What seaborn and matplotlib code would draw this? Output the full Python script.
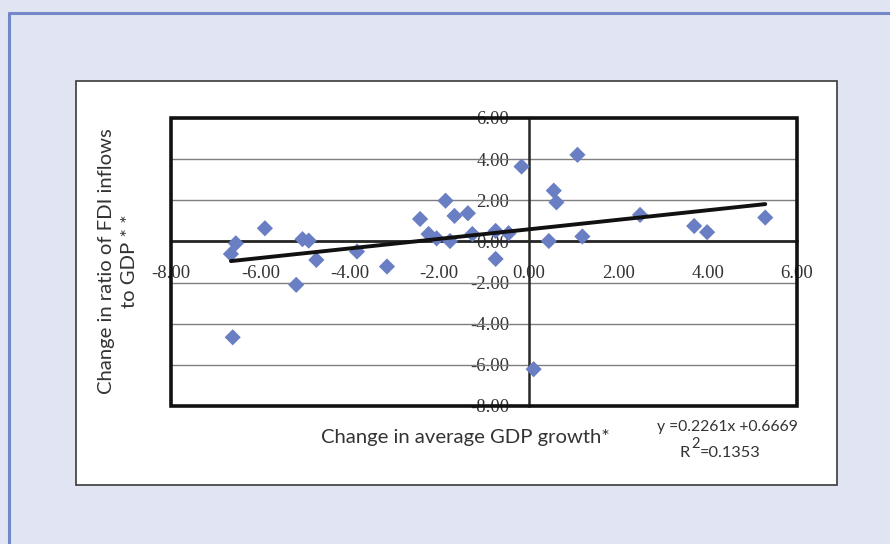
import numpy as np
import matplotlib
matplotlib.use("Agg")
import matplotlib.pyplot as plt
import matplotlib.patches as patches
from matplotlib.lines import Line2D
import seaborn as sns

# change in average GDP growth (x) vs change in FDI inflow ratio (y)
gdp_change = [-6.66, -6.55, -5.90, -5.06, -4.92, -4.75, -5.20, -6.62, -3.84, -3.17,
              -2.43, -2.24, -2.06, -1.86, -1.76, -1.66, -1.36, -1.26, -0.74, -0.74,
              -0.45, -0.16, 0.11, 0.45, 0.56, 0.62, 1.09, 1.20, 2.49, 3.70, 3.99, 5.29]
fdi_change = [-0.61, -0.09, 0.64, 0.11, 0.04, -0.90, -2.11, -4.66, -0.49, -1.22,
              1.09, 0.36, 0.15, 1.98, 0.02, 1.24, 1.37, 0.36, 0.51, -0.85,
              0.40, 3.64, -6.21, 0.02, 2.47, 1.90, 4.21, 0.24, 1.29, 0.75, 0.45, 1.16]
x_ticks = [-8, -6, -4, -2, 0, 2, 4, 6]
y_ticks = [-8, -6, -4, -2, 0, 2, 4, 6]

sns.set_style("white")
W, H = 890, 544
fig = plt.figure(figsize=(W / 100, H / 100), dpi=100)
fig.patch.set_facecolor("#e1e4f2")

# outer blue frame (left and top) and white chart box
fig.add_artist(Line2D([9 / W, 9 / W], [0, 1 - 13 / H], color="#7388c8", lw=2.2))
fig.add_artist(Line2D([9 / W, 1], [1 - 13 / H, 1 - 13 / H], color="#7388c8", lw=2.2))
fig.add_artist(patches.Rectangle((76 / W, 1 - 485 / H), (837 - 76) / W, (485 - 81) / H,
                                 transform=fig.transFigure, facecolor="white",
                                 edgecolor="#3a3a3a", lw=1.2, zorder=0))

ax = fig.add_axes([171 / W, 1 - 406 / H, (797 - 171) / W, (406 - 118) / H])
ax.set_facecolor("white")

sns.regplot(x=gdp_change, y=fdi_change, ax=ax, ci=None, marker="D",
            scatter_kws=dict(color="#6a7fc3", s=68, alpha=1, edgecolor="none", zorder=3),
            line_kws=dict(color="#111111", lw=2.8, zorder=4))

ax.set_xlim(-8, 6)
ax.set_ylim(-8, 6)
ax.set_xticks(x_ticks)
ax.set_yticks(y_ticks)
ax.set_xticklabels([f"{v:.2f}" for v in x_ticks])
ax.set_yticklabels([f"{v:.2f}" for v in y_ticks])
for v in y_ticks:
    ax.axhline(v, color="#7f7f7f", lw=1.0, zorder=1)

# axes crossing at zero
ax.spines["left"].set_position(("data", 0))
ax.spines["bottom"].set_position(("data", 0))
ax.spines["left"].set_linewidth(1.8)
ax.spines["bottom"].set_linewidth(2.0)
ax.spines["left"].set_zorder(2)
ax.spines["bottom"].set_zorder(2)
ax.spines["top"].set_visible(False)
ax.spines["right"].set_visible(False)
ax.add_patch(patches.Rectangle((0, 0), 1, 1, transform=ax.transAxes, fill=False,
                               edgecolor="#111111", lw=2.6, clip_on=False, zorder=5))

ax.tick_params(axis="x", direction="out", length=5, width=1.5, pad=12, colors="#111111",
               labelcolor="#333333")
ax.tick_params(axis="y", length=0, pad=14, labelcolor="#333333")
for lab in ax.get_xticklabels() + ax.get_yticklabels():
    lab.set_fontfamily("Liberation Serif")
    lab.set_fontsize(13.5)

fig.text(465 / W, 1 - 438 / H, "Change in average GDP growth*", family="Lato",
         size=14.6, color="#333333", ha="center", va="center")
fig.text(118 / W, 1 - 261 / H, "Change in ratio of FDI inflows\nto GDP * *", family="Lato",
         size=14.6, color="#333333", ha="center", va="center", rotation=90,
         multialignment="center", linespacing=1.45)
fig.text(727 / W, 1 - 427 / H, "y =0.2261x +0.6669", family="Lato", size=11.3,
         color="#333333", ha="center", va="center")
# R squared, with a large raised 2 as in the original
fig.text(690 / W, 1 - 453 / H, "R", family="Lato", size=11.8,
         color="#333333", ha="right", va="center")
fig.text(691 / W, 1 - 444 / H, "2", family="Lato", size=10.5,
         color="#333333", ha="left", va="center")
fig.text(700 / W, 1 - 453 / H, "=0.1353", family="Lato", size=11.8,
         color="#333333", ha="left", va="center")

fig.savefig("out.png", dpi=100, facecolor=fig.get_facecolor())
